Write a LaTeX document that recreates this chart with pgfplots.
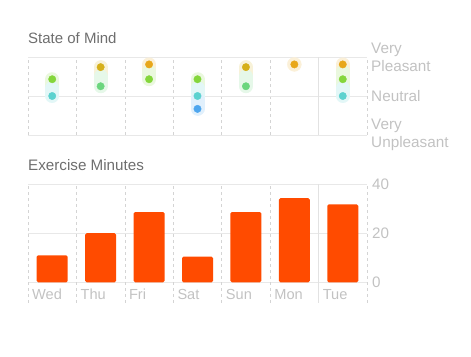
\documentclass[border=0pt]{standalone}
\usepackage{fontspec}
\setmainfont{Liberation Sans}
\usepackage{pgfplots}
\pgfplotsset{compat=1.18}
\definecolor{titlegray}{HTML}{6E6E6E}
\definecolor{lblgray}{HTML}{C2C2C2}
\definecolor{gridsolid}{HTML}{E8E8E8}
\definecolor{griddash}{HTML}{D4D4D4}
\definecolor{cGreen}{HTML}{84D63B}
\definecolor{cLGreen}{HTML}{6BD67E}
\definecolor{cGold}{HTML}{D6B01A}
\definecolor{cOrange}{HTML}{E8A71A}
\definecolor{cCyan}{HTML}{5CD2CF}
\definecolor{cBlue}{HTML}{4EA6EE}
\definecolor{cBar}{HTML}{FF4B00}
\begin{document}
\begin{tikzpicture}
\useasboundingbox (0,0) rectangle (471pt,356pt);
% ---------------- State of Mind ----------------
\begin{axis}[
  at={(28pt,221pt)}, anchor=south west,
  scale only axis, width=339pt, height=78pt,
  xmin=-0.5, xmax=6.5, ymin=-1, ymax=1,
  axis line style={draw=none},
  major tick length=0pt,
  xtick={-0.5,0.5,...,6.5}, xticklabels={},
  xmajorgrids, x grid style={griddash, dashed, line width=0.5pt},
  extra x ticks={5.5}, extra x tick labels={},
  extra x tick style={grid=major, x grid style={gridsolid!70!griddash, solid, line width=0.7pt}},
  ytick={-1,0,1},
  yticklabels={{Very\\Unpleasant},Neutral,{Very\\Pleasant}},
  yticklabel pos=right,
  yticklabel style={align=left, anchor=west, inner sep=0pt, font=\fontsize{15.3}{18}\selectfont, text=lblgray, xshift=4pt},
  ymajorgrids, y grid style={gridsolid, solid, line width=0.7pt},
  title={State of Mind},
  title style={at={(0,1)}, anchor=base west, inner sep=0pt, yshift=7.7pt, font=\fontsize{15}{17}\selectfont, text=titlegray},
  clip=false,
]
% pills (pale backgrounds)
\addplot[line width=14pt, line cap=round, color=cGreen!17!white] coordinates {(0,0.43) (0,0.2)};
\addplot[line width=14pt, line cap=round, color=cCyan!17!white] coordinates {(0,0.2) (0,0)};
\addplot[line width=14pt, line cap=round, color=cGold!17!white] coordinates {(1,0.74) (1,0.5)};
\addplot[line width=14pt, line cap=round, color=cLGreen!17!white] coordinates {(1,0.5) (1,0.25)};
\addplot[line width=14pt, line cap=round, color=cOrange!17!white] coordinates {(2,0.81) (2,0.62)};
\addplot[line width=14pt, line cap=round, color=cGreen!17!white] coordinates {(2,0.62) (2,0.43)};
\addplot[line width=14pt, line cap=round, color=cGreen!17!white] coordinates {(3,0.43) (3,0.2)};
\addplot[line width=14pt, line cap=round, color=cCyan!17!white] coordinates {(3,0.2) (3,-0.1)};
\addplot[line width=14pt, line cap=round, color=cBlue!17!white] coordinates {(3,-0.1) (3,-0.33)};
\addplot[line width=14pt, line cap=round, color=cGold!17!white] coordinates {(4,0.74) (4,0.5)};
\addplot[line width=14pt, line cap=round, color=cLGreen!17!white] coordinates {(4,0.5) (4,0.25)};
\addplot[only marks, mark=*, mark size=7pt, color=cOrange!17!white] coordinates {(5,0.81)};
\addplot[line width=14pt, line cap=round, color=cOrange!17!white] coordinates {(6,0.81) (6,0.62)};
\addplot[line width=14pt, line cap=round, color=cGreen!17!white] coordinates {(6,0.62) (6,0.2)};
\addplot[line width=14pt, line cap=round, color=cCyan!17!white] coordinates {(6,0.2) (6,0)};
% dots
\addplot[only marks, mark=*, mark size=3.7pt, color=cGreen] coordinates {(0,0.43) (2,0.43) (3,0.43) (6,0.43)};
\addplot[only marks, mark=*, mark size=3.7pt, color=cLGreen] coordinates {(1,0.25) (4,0.25)};
\addplot[only marks, mark=*, mark size=3.7pt, color=cGold] coordinates {(1,0.74) (4,0.74)};
\addplot[only marks, mark=*, mark size=3.7pt, color=cOrange] coordinates {(2,0.81) (5,0.81) (6,0.81)};
\addplot[only marks, mark=*, mark size=3.7pt, color=cCyan] coordinates {(0,0) (3,0) (6,0)};
\addplot[only marks, mark=*, mark size=3.7pt, color=cBlue] coordinates {(3,-0.33)};
\end{axis}
% ---------------- Exercise Minutes ----------------
\begin{axis}[
  at={(28pt,53pt)}, anchor=south west,
  scale only axis, width=339pt, height=119pt,
  xmin=-0.5, xmax=6.5, ymin=-8.42, ymax=40,
  axis line style={draw=none},
  major tick length=0pt,
  xtick={0,...,6},
  xticklabels={Wed,Thu,Fri,Sat,Sun,Mon,Tue},
  xticklabel style={anchor=base west, inner sep=0pt, xshift=-20.2pt, yshift=3.7pt, font=\fontsize{14.6}{17}\selectfont, text=lblgray},
  extra x ticks={-0.5,0.5,...,6.5}, extra x tick labels={},
  extra x tick style={grid=major, x grid style={griddash, dashed, line width=0.5pt}},
  ytick={0,20,40},
  yticklabel pos=right,
  yticklabel style={anchor=west, inner sep=0pt, font=\fontsize{15.2}{17}\selectfont, text=lblgray, xshift=5pt},
  /pgf/number format/assume math mode=true,
  ymajorgrids, y grid style={gridsolid, solid, line width=0.7pt},
  title={Exercise Minutes},
  title style={at={(0,1)}, anchor=base west, inner sep=0pt, yshift=7.3pt, font=\fontsize{15.2}{17}\selectfont, text=titlegray},
  clip=false,
]
\draw[gridsolid!70!griddash, solid, line width=0.7pt] (axis cs:5.5,-8.42) -- (axis cs:5.5,40);
\addplot[ybar, bar width=31pt, bar shift=0pt, fill=cBar, draw=none, rounded corners=1.5pt]
  coordinates {(0,11) (1,20) (2,28.6) (3,10.4) (4,28.6) (5,34.2) (6,31.7)};
\end{axis}
\end{tikzpicture}
\end{document}
